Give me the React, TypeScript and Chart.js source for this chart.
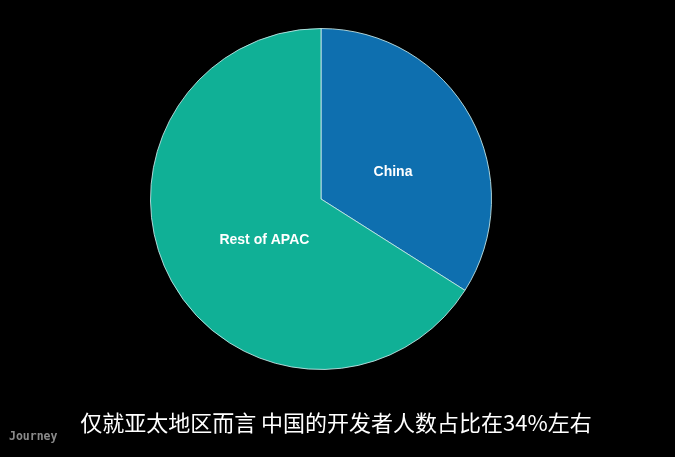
import React, { useEffect, useRef } from "react";
import { Chart, registerables } from "chart.js";

Chart.register(...registerables);

const categories = ["China", "Rest of APAC"];
const shares = [34, 66];
const sliceColors = ["#0E6FAF", "#10B096"];
const subtitleText = "仅就亚太地区而言 中国的开发者人数占比在34%左右";
const watermarkText = "Journey";

export default function App() {
  const ref = useRef<HTMLCanvasElement | null>(null);

  useEffect(() => {
    document.body.style.margin = "0";
    document.body.style.background = "#000";
    const canvas = ref.current!;
    const labelPlugin = {
      id: "labels",
      beforeDraw(chart: any) {
        const ctx = chart.ctx;
        ctx.save();
        ctx.fillStyle = "#000";
        ctx.fillRect(0, 0, chart.width, chart.height);
        ctx.restore();
      },
      afterDraw(chart: any) {
        const ctx = chart.ctx;
        const meta = chart.getDatasetMeta(0);
        ctx.save();
        ctx.fillStyle = "#ffffff";
        ctx.font = "bold 14px 'Liberation Sans', Arial, sans-serif";
        ctx.textAlign = "center";
        ctx.textBaseline = "middle";
        const radial = [0.45, 0.41];
        const along = [0.57, 0.47];
        meta.data.forEach((arc: any, i: number) => {
          const p = arc.getProps(["x", "y", "startAngle", "endAngle", "outerRadius"], true);
          const a = p.startAngle + (p.endAngle - p.startAngle) * along[i];
          const r = p.outerRadius * radial[i];
          ctx.fillText(categories[i], p.x + Math.cos(a) * r, p.y + Math.sin(a) * r);
        });
        ctx.font = "22px 'Noto Sans CJK SC', sans-serif";
        ctx.fillText(subtitleText, 336, 423);
        ctx.fillStyle = "#8a8a8a";
        ctx.textAlign = "left";
        ctx.font = "bold 11.5px 'DejaVu Sans Mono', monospace";
        ctx.fillText(watermarkText, 9, 437);
        ctx.restore();
      },
    };
    const chart = new Chart(canvas, {
      type: "pie",
      data: {
        labels: categories,
        datasets: [
          {
            data: shares,
            backgroundColor: sliceColors,
            borderColor: "rgba(200,235,235,0.85)",
            borderWidth: 1,
          },
        ],
      },
      options: {
        responsive: false,
        animation: false,
        layout: { padding: { left: 150, right: 183, top: 28, bottom: 87 } },
        plugins: {
          legend: { display: false },
          tooltip: { enabled: false },
        },
      },
      plugins: [labelPlugin],
    });
    return () => chart.destroy();
  }, []);

  return (
    <div style={{ width: 675, height: 457, background: "#000" }}>
      <canvas ref={ref} width={675} height={457} style={{ display: "block" }} />
    </div>
  );
}
